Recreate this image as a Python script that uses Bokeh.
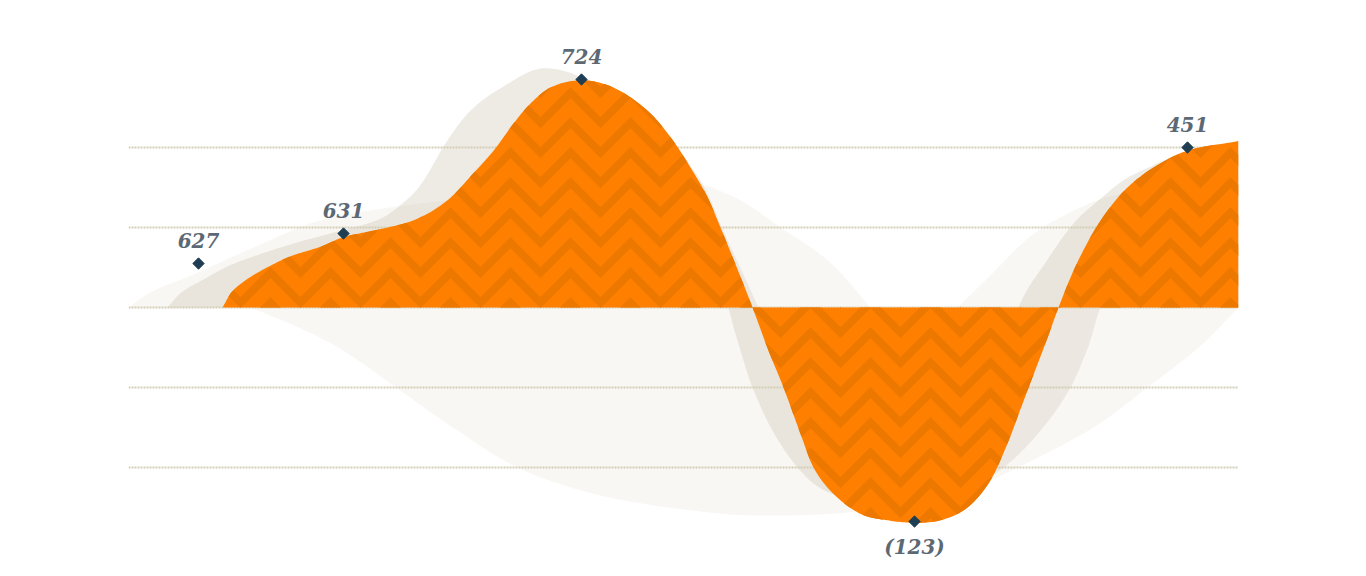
import numpy as np
from bokeh.plotting import figure
from bokeh.models import Grid, FixedTicker, ColumnDataSource, Range1d
from bokeh.core.properties import value
from bokeh.embed import file_html
from bokeh.resources import INLINE

# ---------------- data ----------------
point_labels = ["627", "631", "724", "(123)", "451"]
point_values = [627, 631, 724, -123, 451]
point_x = [0.70, 2.15, 4.53, 7.86, 10.59]
point_level = [0.55, 0.925, 2.85, -2.675, 2.0]

# main (orange) series outline
main_x = [0.94, 1.03, 1.17, 1.37, 1.62, 1.92, 2.15, 2.52, 2.87, 3.19, 3.45, 3.65, 3.85,
          4.02, 4.22, 4.52, 4.85, 5.19, 5.42, 5.62, 5.79, 5.92, 6.08, 6.24, 6.40, 6.55,
          6.72, 6.85, 7.05, 7.32, 7.59, 7.85, 8.12, 8.39, 8.62, 8.79, 8.92, 9.05, 9.19,
          9.30, 9.45, 9.62, 9.79, 9.99, 10.25, 10.59, 11.10]
main_y = [0.0, 0.19, 0.34, 0.49, 0.64, 0.76, 0.88, 0.98, 1.10, 1.34, 1.68, 1.96, 2.30,
          2.55, 2.75, 2.84, 2.75, 2.46, 2.13, 1.75, 1.38, 1.00, 0.51, 0.0, -0.54, -1.0,
          -1.58, -2.0, -2.33, -2.58, -2.66, -2.69, -2.66, -2.50, -2.16, -1.70, -1.27,
          -0.84, -0.38, 0.0, 0.46, 0.88, 1.21, 1.50, 1.75, 1.96, 2.08]

# background ghost series
ghost1_x = [0.39, 0.52, 0.72, 1.02, 1.42, 1.82, 2.22, 2.52, 2.72, 2.92, 3.19, 3.42, 3.72,
            4.15, 4.67, 5.12, 5.62, 5.87, 6.00, 6.12, 6.24, 6.44, 6.69, 6.92, 7.22, 7.52,
            7.92, 8.32, 8.62, 8.90, 9.17, 9.45, 9.72, 9.95, 10.22, 10.45, 11.10]
ghost1_y = [0.0, 0.18, 0.33, 0.53, 0.71, 0.86, 0.99, 1.11, 1.28, 1.53, 2.09, 2.46, 2.74,
            2.99, 2.79, 2.35, 1.60, 0.78, 0.0, -0.54, -1.0, -1.54, -2.0, -2.26, -2.39,
            -2.41, -2.29, -1.91, -1.10, 0.0, 0.56, 1.05, 1.36, 1.59, 1.76, 1.88, 1.96]

ghost2_x = [1.32, 2.22, 3.22, 4.02, 4.72, 5.22, 5.72, 5.97, 6.30, 6.54, 6.72, 6.97, 7.32,
            7.82, 8.32, 8.75, 9.12, 9.42, 9.60, 9.72, 10.02, 10.52, 11.10]
ghost2_y = [0.0, 0.71, 1.28, 2.46, 2.65, 2.34, 1.59, 0.90, 0.0, -0.66, -1.35, -1.94,
            -2.29, -2.41, -2.31, -2.0, -1.54, -1.0, -0.48, 0.0, 0.71, 1.34, 1.71]

haze_up_x = [0.0, 0.22, 0.59, 1.25, 1.92, 2.92, 3.72, 4.72, 5.32, 5.69, 6.12, 6.52, 7.02, 7.42]
haze_up_y = [0.0, 0.19, 0.38, 0.75, 1.09, 1.30, 1.40, 1.56, 1.59, 1.55, 1.34, 1.0, 0.56, 0.0]

haze_low_x = [1.22, 1.72, 2.15, 2.72, 3.22, 3.89, 4.72, 5.72, 6.32, 7.22, 8.22, 8.89, 9.65,
              10.19, 10.72, 11.10]
haze_low_y = [0.0, -0.26, -0.54, -1.04, -1.48, -2.0, -2.35, -2.55, -2.6, -2.56, -2.36,
              -2.0, -1.5, -1.0, -0.48, 0.0]

haze_right_x = [8.29, 8.57, 9.02, 9.42, 9.79, 10.32, 11.10]
haze_right_y = [0.0, 0.34, 0.89, 1.19, 1.38, 1.49, 1.53]

grid_levels = [-2, -1, 0, 1, 2]

# chevron texture of the main area (data units)
chev_period, chev_depth, chev_step, chev_width = 0.60, 0.375, 0.375, 0.14
chev_x0, chev_y0 = 7.72, -0.76


# ---------------- smooth rendering of the outlines ----------------
def smooth(xs, ys, per=14):
    xs = np.asarray(xs, float)
    ys = np.asarray(ys, float)
    n = len(xs)
    m = np.zeros(n)
    for i in range(n):
        if i == 0:
            m[i] = (ys[1] - ys[0]) / (xs[1] - xs[0])
        elif i == n - 1:
            m[i] = (ys[-1] - ys[-2]) / (xs[-1] - xs[-2])
        else:
            m[i] = (ys[i + 1] - ys[i - 1]) / (xs[i + 1] - xs[i - 1])
    ox, oy = [], []
    for i in range(n - 1):
        h = xs[i + 1] - xs[i]
        t = np.linspace(0, 1, per, endpoint=(i == n - 2))
        h00 = 2 * t**3 - 3 * t**2 + 1
        h10 = t**3 - 2 * t**2 + t
        h01 = -2 * t**3 + 3 * t**2
        h11 = t**3 - t**2
        ox.extend(xs[i] + t * h)
        oy.extend(h00 * ys[i] + h10 * h * m[i] + h01 * ys[i + 1] + h11 * h * m[i + 1])
    return np.array(ox), np.array(oy)


p = figure(width=1366, height=576, x_range=Range1d(0, 11.1), y_range=Range1d(-3.3625, 3.8375),
           x_axis_location=None, y_axis_location=None, toolbar_location=None,
           output_backend="svg", min_border_left=128, min_border_right=128,
           min_border_top=0, min_border_bottom=0, outline_line_color=None,
           background_fill_color="white", border_fill_color="white")
p.xgrid.visible = False
p.ygrid.visible = False

haze = "#d6c6ac"
ghost = "#b9aa94"
for xs, ys, col, a in [(haze_up_x, haze_up_y, haze, 0.14),
                       (haze_low_x, haze_low_y, haze, 0.14),
                       (haze_right_x, haze_right_y, haze, 0.14),
                       (ghost1_x, ghost1_y, ghost, 0.24),
                       (ghost2_x, ghost2_y, ghost, 0.20)]:
    sx, sy = smooth(xs, ys)
    p.varea(x=sx, y1=0, y2=sy, fill_color=col, fill_alpha=a, level="image")

p.add_layout(Grid(dimension=1, ticker=FixedTicker(ticks=grid_levels),
                  grid_line_color="#d3cdb6", grid_line_width=2, grid_line_dash="2 1"))

# main area
mx, my = smooth(main_x, main_y)
p.varea(x=mx, y1=0, y2=my, fill_color="#ff8000")

# chevron stripes, clipped to the main area
cx = np.round(np.arange(mx[0], mx[-1] + 1e-9, 0.01), 4)
cy = np.interp(cx, mx, my)
lo, hi = np.minimum(cy, 0), np.maximum(cy, 0)
phase = ((cx - chev_x0) / chev_period) % 1.0
zig = chev_depth * (1 - 2 * np.abs(phase - 0.5))
off = chev_y0 % chev_step
k0 = int(np.floor((lo.min() - chev_depth - chev_width) / chev_step)) - 1
k1 = int(np.ceil(hi.max() / chev_step)) + 1
for k in range(k0, k1):
    b = off + k * chev_step + zig
    y1 = np.clip(b, lo, hi)
    y2 = np.clip(b + chev_width, lo, hi)
    if np.all(y2 - y1 <= 0):
        continue
    p.varea(x=cx, y1=y1, y2=y2, fill_color="#ec7800")

src = ColumnDataSource(dict(x=point_x, y=point_level, label=point_labels))
p.scatter(x="x", y="y", source=src, marker="square", angle=np.pi / 4, size=8,
          fill_color="#1f3e53", line_color="#1f3e53")

pos = [i for i, v in enumerate(point_values) if v >= 0]
neg = [i for i, v in enumerate(point_values) if v < 0]
p.text(x=[point_x[i] for i in pos], y=[point_level[i] for i in pos],
       text=[point_labels[i] for i in pos], text_align="center", text_baseline="alphabetic",
       y_offset=-23, text_font=value("DejaVu Serif"), text_font_style="bold italic",
       text_font_size="20px", text_color="#5c6873")
p.text(x=[point_x[i] for i in neg], y=[point_level[i] for i in neg],
       text=[point_labels[i] for i in neg], text_align="center", text_baseline="alphabetic",
       y_offset=25, text_font=value("DejaVu Serif"), text_font_style="bold italic",
       text_font_size="20px", text_color="#5c6873")

open("out.html", "w").write(file_html(p, INLINE))
